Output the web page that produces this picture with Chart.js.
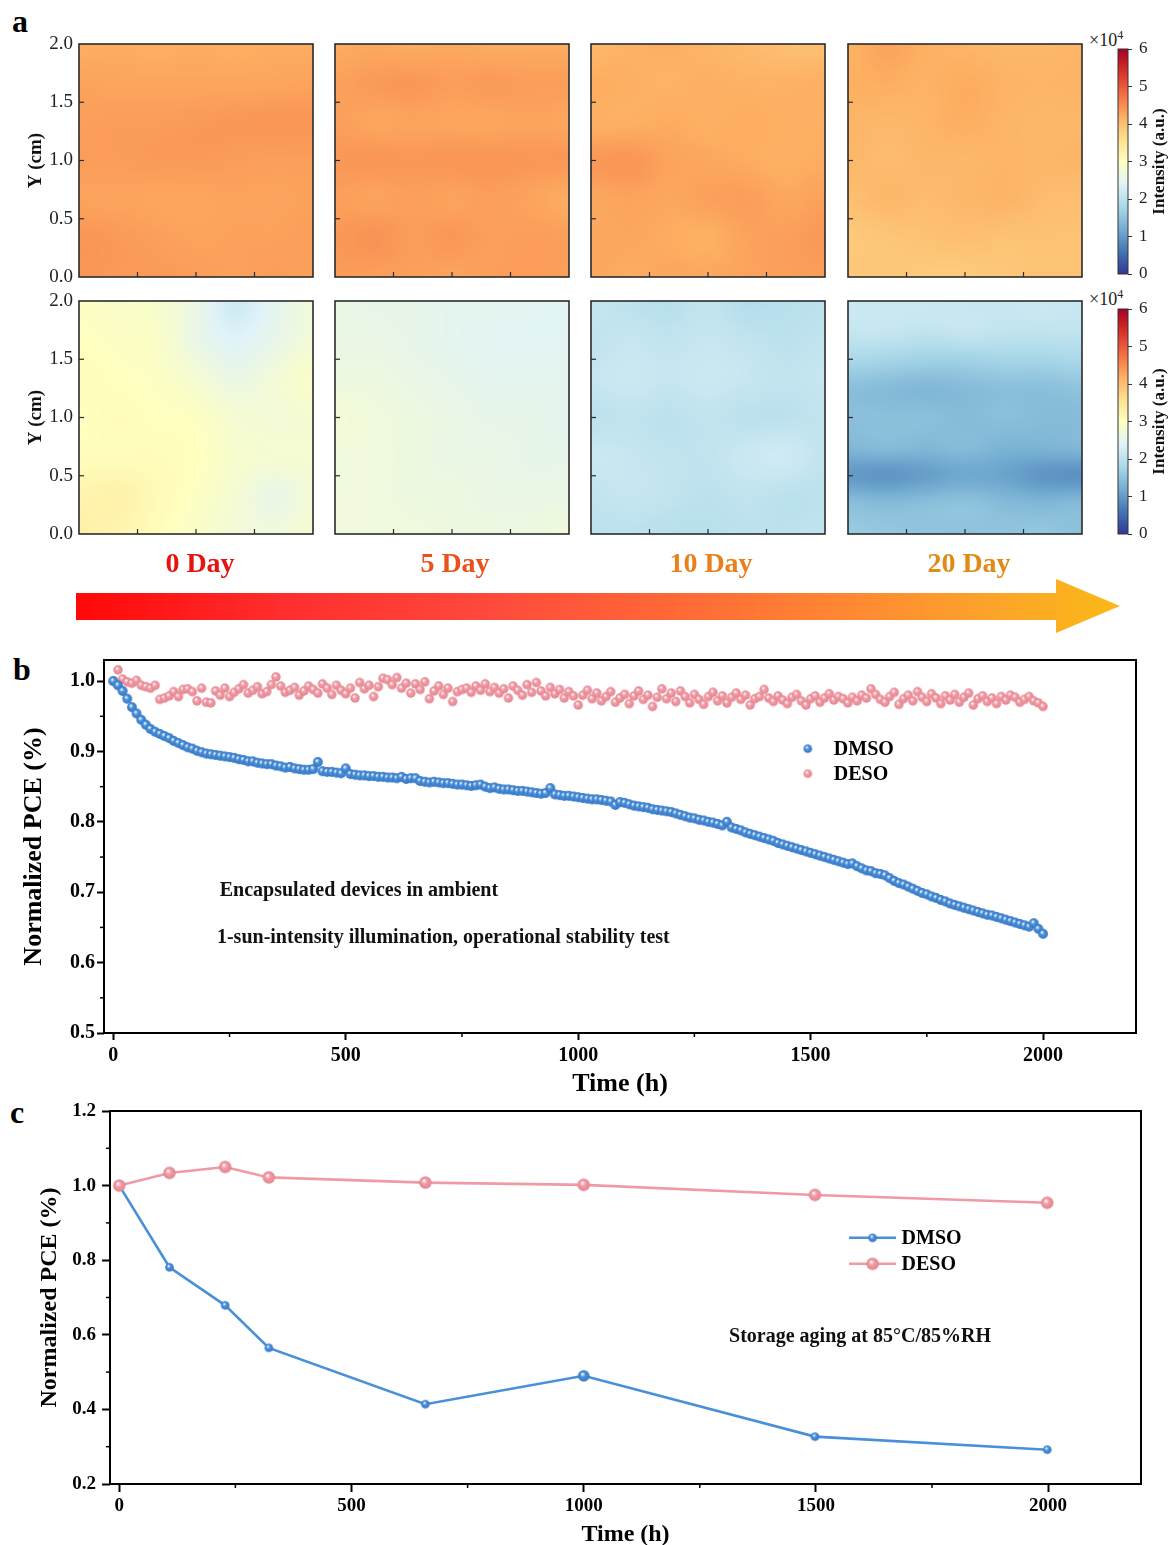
<!DOCTYPE html>
<html>
<head>
<meta charset="utf-8">
<script src="https://cdn.jsdelivr.net/npm/chart.js@4.4.1/dist/chart.umd.min.js"></script>
<style>
  body { margin: 0; background: #fff; width: 1168px; height: 1545px; position: relative; overflow: hidden;
         font-family: "Liberation Serif", "Times New Roman", serif; }
  canvas { position: absolute; }
  .t { position: absolute; white-space: nowrap; line-height: 1; }
  .lbl { font-weight: bold; font-size: 32px; color: #000; }
  .day { font-weight: bold; font-size: 28px; width: 200px; text-align: center; }
  .exp { font-size: 18px; color: #222; }
  .exp sup { font-size: 12px; vertical-align: 7px; }
  #arrow { position: absolute; left: 76px; top: 579px; width: 1044px; height: 54px;
           background: linear-gradient(to right, #ff0808 0%, #ff2e2e 20%, #ff4a3c 40%, #ff6a36 58%, #ff8a32 75%, #fca42a 88%, #fbb916 100%);
           clip-path: polygon(0 14px, 980px 14px, 980px 0, 1044px 27px, 980px 54px, 980px 41px, 0 41px); }
</style>
</head>
<body>
<div class="t lbl" style="left:12px;top:5px">a</div>
<div class="t lbl" style="left:13px;top:653px">b</div>
<div class="t lbl" style="left:10px;top:1096px">c</div>
<div class="t exp" style="left:1089px;top:29px">×10<sup>4</sup></div>
<div class="t exp" style="left:1089px;top:288px">×10<sup>4</sup></div>
<div id="arrow"></div>

<script>
// ---- panel a : intensity maps (x10^4), rows from Y = 2.0 (top) down to Y = 0.0
const heatTicks = [0, 0.5, 1.0, 1.5, 2.0];
const barTicks = [0, 1, 2, 3, 4, 5, 6];
const dayLabels = ["0 Day", "5 Day", "10 Day", "20 Day"];

const topDay0 = [
  [4.20, 4.22, 4.20, 4.22, 4.20, 4.22, 4.22],
  [4.30, 4.28, 4.28, 4.28, 4.28, 4.28, 4.30],
  [4.34, 4.36, 4.36, 4.38, 4.40, 4.42, 4.42],
  [4.36, 4.36, 4.38, 4.38, 4.36, 4.34, 4.34],
  [4.30, 4.30, 4.28, 4.28, 4.30, 4.30, 4.32],
  [4.42, 4.38, 4.34, 4.30, 4.32, 4.32, 4.34],
  [4.42, 4.38, 4.38, 4.35, 4.32, 4.35, 4.32]
];
const topDay5 = [
  [4.22, 4.25, 4.22, 4.25, 4.22, 4.22, 4.22],
  [4.32, 4.38, 4.40, 4.35, 4.38, 4.35, 4.35],
  [4.34, 4.28, 4.30, 4.28, 4.28, 4.30, 4.28],
  [4.40, 4.42, 4.40, 4.42, 4.42, 4.40, 4.40],
  [4.34, 4.30, 4.34, 4.30, 4.34, 4.30, 4.22],
  [4.40, 4.45, 4.36, 4.40, 4.34, 4.36, 4.34],
  [4.36, 4.34, 4.34, 4.30, 4.34, 4.36, 4.34]
];
const topDay10 = [
  [4.08, 4.15, 4.18, 4.12, 4.05, 4.00, 4.00],
  [4.22, 4.18, 4.15, 4.18, 4.15, 4.15, 4.18],
  [4.18, 4.18, 4.22, 4.18, 4.22, 4.18, 4.18],
  [4.40, 4.42, 4.30, 4.26, 4.22, 4.18, 4.22],
  [4.26, 4.30, 4.26, 4.32, 4.35, 4.26, 4.32],
  [4.26, 4.26, 4.22, 4.18, 4.30, 4.34, 4.40],
  [4.26, 4.22, 4.26, 4.26, 4.30, 4.34, 4.34]
];
const topDay20 = [
  [4.15, 4.30, 4.18, 4.12, 4.08, 4.08, 4.12],
  [4.18, 4.20, 4.15, 4.22, 4.15, 4.12, 4.15],
  [4.12, 4.08, 4.12, 4.20, 4.12, 4.08, 4.08],
  [4.08, 4.04, 4.08, 4.08, 4.12, 4.08, 4.12],
  [4.00, 4.08, 4.04, 4.08, 4.12, 4.04, 4.00],
  [3.88, 3.92, 3.96, 4.00, 3.96, 3.96, 3.96],
  [3.90, 3.90, 3.86, 3.86, 3.90, 3.95, 3.95]
];
const lowDay0 = [
  [2.95, 2.90, 2.85, 2.60, 2.20, 2.50, 2.70],
  [3.00, 2.95, 2.90, 2.60, 2.40, 2.55, 2.75],
  [3.05, 3.00, 2.95, 2.80, 2.60, 2.75, 2.90],
  [3.00, 3.05, 3.00, 2.95, 2.80, 2.75, 2.80],
  [3.05, 3.05, 3.05, 3.00, 2.85, 2.80, 2.80],
  [3.20, 3.25, 3.10, 2.95, 2.80, 2.60, 2.75],
  [3.30, 3.20, 3.05, 2.90, 2.75, 2.70, 2.80]
];
const lowDay5 = [
  [2.60, 2.55, 2.55, 2.50, 2.50, 2.45, 2.45],
  [2.60, 2.60, 2.55, 2.50, 2.45, 2.45, 2.45],
  [2.65, 2.65, 2.60, 2.55, 2.50, 2.50, 2.50],
  [2.75, 2.70, 2.65, 2.60, 2.55, 2.55, 2.50],
  [2.70, 2.70, 2.65, 2.60, 2.60, 2.55, 2.55],
  [2.70, 2.70, 2.65, 2.65, 2.60, 2.60, 2.60],
  [2.70, 2.70, 2.70, 2.65, 2.65, 2.65, 2.70]
];
const lowDay10 = [
  [2.10, 2.00, 1.95, 2.05, 1.90, 1.95, 2.00],
  [2.05, 2.10, 2.05, 2.10, 2.05, 2.00, 2.05],
  [2.10, 2.15, 2.10, 2.15, 2.10, 2.05, 2.10],
  [2.00, 2.05, 2.00, 2.05, 2.00, 2.00, 2.05],
  [2.15, 2.10, 2.05, 2.05, 2.15, 2.20, 2.05],
  [2.05, 2.10, 2.05, 2.00, 2.05, 2.00, 2.00],
  [2.00, 2.00, 1.95, 1.95, 2.00, 2.00, 2.05]
];
const lowDay20 = [
  [2.15, 2.15, 2.15, 2.10, 2.10, 2.15, 2.10],
  [2.10, 2.10, 2.05, 2.10, 2.05, 2.05, 2.05],
  [1.80, 1.75, 1.70, 1.70, 1.75, 1.75, 1.80],
  [1.45, 1.40, 1.35, 1.40, 1.45, 1.45, 1.50],
  [1.45, 1.45, 1.45, 1.40, 1.45, 1.40, 1.40],
  [1.35, 1.40, 1.35, 1.40, 1.30, 1.30, 1.35],
  [1.00, 0.95, 1.05, 1.15, 1.10, 0.95, 0.90],
  [1.45, 1.40, 1.45, 1.50, 1.40, 1.35, 1.40],
  [1.60, 1.55, 1.50, 1.50, 1.50, 1.55, 1.45]
];

// ---- panel b : operational stability
const timeB = [
  0, 10, 20, 30, 40, 50, 60, 70, 80, 90, 100, 110, 120, 130, 140, 150, 160, 170, 180, 190,
  200, 210, 220, 230, 240, 250, 260, 270, 280, 290, 300, 310, 320, 330, 340, 350, 360, 370, 380, 390,
  400, 410, 420, 430, 440, 450, 460, 470, 480, 490, 500, 510, 520, 530, 540, 550, 560, 570, 580, 590,
  600, 610, 620, 630, 640, 650, 660, 670, 680, 690, 700, 710, 720, 730, 740, 750, 760, 770, 780, 790,
  800, 810, 820, 830, 840, 850, 860, 870, 880, 890, 900, 910, 920, 930, 940, 950, 960, 970, 980, 990,
  1000, 1010, 1020, 1030, 1040, 1050, 1060, 1070, 1080, 1090, 1100, 1110, 1120, 1130, 1140, 1150, 1160, 1170, 1180, 1190,
  1200, 1210, 1220, 1230, 1240, 1250, 1260, 1270, 1280, 1290, 1300, 1310, 1320, 1330, 1340, 1350, 1360, 1370, 1380, 1390,
  1400, 1410, 1420, 1430, 1440, 1450, 1460, 1470, 1480, 1490, 1500, 1510, 1520, 1530, 1540, 1550, 1560, 1570, 1580, 1590,
  1600, 1610, 1620, 1630, 1640, 1650, 1660, 1670, 1680, 1690, 1700, 1710, 1720, 1730, 1740, 1750, 1760, 1770, 1780, 1790,
  1800, 1810, 1820, 1830, 1840, 1850, 1860, 1870, 1880, 1890, 1900, 1910, 1920, 1930, 1940, 1950, 1960, 1970, 1980, 1990,
  2000
];
const dmsoB = [
  1.000, 0.994, 0.986, 0.975, 0.963, 0.954, 0.945, 0.938, 0.932, 0.928,
  0.925, 0.922, 0.919, 0.915, 0.912, 0.909, 0.906, 0.904, 0.901, 0.899,
  0.897, 0.896, 0.895, 0.894, 0.893, 0.892, 0.891, 0.889, 0.888, 0.886,
  0.886, 0.884, 0.883, 0.882, 0.882, 0.880, 0.879, 0.877, 0.878, 0.876,
  0.875, 0.874, 0.874, 0.875, 0.885, 0.872, 0.871, 0.871, 0.870, 0.869,
  0.876, 0.868, 0.867, 0.866, 0.866, 0.865, 0.865, 0.864, 0.864, 0.863,
  0.863, 0.862, 0.864, 0.861, 0.862, 0.862, 0.858, 0.857, 0.856, 0.857,
  0.856, 0.855, 0.855, 0.854, 0.853, 0.853, 0.852, 0.851, 0.852, 0.853,
  0.850, 0.848, 0.849, 0.847, 0.846, 0.846, 0.845, 0.844, 0.844, 0.843,
  0.842, 0.841, 0.840, 0.841, 0.848, 0.839, 0.838, 0.837, 0.837, 0.836,
  0.835, 0.834, 0.833, 0.832, 0.832, 0.831, 0.830, 0.829, 0.824, 0.828,
  0.827, 0.825, 0.823, 0.822, 0.821, 0.820, 0.818, 0.817, 0.816, 0.815,
  0.814, 0.812, 0.810, 0.808, 0.806, 0.805, 0.803, 0.802, 0.800, 0.799,
  0.797, 0.795, 0.800, 0.792, 0.790, 0.788, 0.785, 0.783, 0.781, 0.779,
  0.777, 0.775, 0.773, 0.770, 0.768, 0.766, 0.764, 0.762, 0.760, 0.758,
  0.756, 0.754, 0.752, 0.750, 0.748, 0.746, 0.744, 0.742, 0.740, 0.741,
  0.737, 0.734, 0.731, 0.730, 0.727, 0.726, 0.724, 0.720, 0.716, 0.713,
  0.711, 0.708, 0.705, 0.702, 0.699, 0.697, 0.694, 0.692, 0.689, 0.687,
  0.684, 0.682, 0.680, 0.678, 0.676, 0.674, 0.672, 0.670, 0.668, 0.667,
  0.665, 0.663, 0.661, 0.659, 0.657, 0.655, 0.653, 0.651, 0.656, 0.648,
  0.641
];
const desoB = [
  1.000, 1.016, 1.003, 0.999, 0.997, 1.001, 0.994, 0.992, 0.990, 0.994,
  0.974, 0.976, 0.979, 0.985, 0.978, 0.988, 0.989, 0.985, 0.972, 0.990,
  0.970, 0.969, 0.986, 0.980, 0.990, 0.978, 0.984, 0.989, 0.995, 0.983,
  0.987, 0.992, 0.982, 0.985, 0.995, 1.006, 0.993, 0.984, 0.987, 0.991,
  0.980, 0.986, 0.993, 0.988, 0.983, 0.996, 0.990, 0.981, 0.994, 0.987,
  0.982, 0.990, 0.976, 0.998, 0.989, 0.994, 0.978, 0.992, 1.004, 1.002,
  0.995, 1.005, 0.990, 0.997, 0.983, 0.996, 0.988, 0.999, 0.975, 0.986,
  0.993, 0.981, 0.990, 0.971, 0.985, 0.988, 0.990, 0.984, 0.993, 0.987,
  0.996, 0.985, 0.991, 0.983, 0.989, 0.976, 0.993, 0.987, 0.980, 0.995,
  0.984, 0.998, 0.986, 0.979, 0.991, 0.982, 0.988, 0.976, 0.985, 0.979,
  0.966, 0.980, 0.987, 0.975, 0.983, 0.972, 0.978, 0.985, 0.970, 0.976,
  0.981, 0.968, 0.979, 0.986, 0.974, 0.980, 0.964, 0.977, 0.989, 0.975,
  0.983, 0.971, 0.986, 0.978, 0.969, 0.981, 0.974, 0.967, 0.978, 0.984,
  0.972, 0.979, 0.969, 0.977, 0.983, 0.974, 0.980, 0.966, 0.975, 0.978,
  0.988, 0.976, 0.971, 0.979, 0.973, 0.968, 0.977, 0.981, 0.972, 0.966,
  0.975, 0.979, 0.970, 0.976, 0.982, 0.973, 0.978, 0.975, 0.969, 0.977,
  0.972, 0.980, 0.976, 0.989, 0.981, 0.974, 0.970, 0.978, 0.984, 0.967,
  0.975, 0.980, 0.972, 0.985, 0.977, 0.971, 0.982, 0.976, 0.968, 0.979,
  0.973, 0.981, 0.970, 0.977, 0.983, 0.966, 0.975, 0.979, 0.971, 0.976,
  0.968, 0.978, 0.973, 0.980, 0.977, 0.970, 0.974, 0.978, 0.972, 0.969,
  0.964
];
const ticksBX = [0, 500, 1000, 1500, 2000];
const minorBX = [250, 750, 1250, 1750];
const ticksBY = [0.5, 0.6, 0.7, 0.8, 0.9, 1.0];
const minorBY = [0.55, 0.65, 0.75, 0.85, 0.95];

// ---- panel c : damp heat storage
const timeC = [0, 108, 228, 322, 659, 1000, 1498, 1998];
const dmsoC = [1.000, 0.781, 0.679, 0.565, 0.414, 0.490, 0.327, 0.292];
const desoC = [1.000, 1.034, 1.050, 1.022, 1.008, 1.002, 0.975, 0.954];
const ticksCX = [0, 500, 1000, 1500, 2000];
const minorCX = [250, 750, 1250, 1750];
const ticksCY = [0.2, 0.4, 0.6, 0.8, 1.0, 1.2];
const minorCY = [0.3, 0.5, 0.7, 0.9, 1.1];

const FONT = '"Liberation Serif", "Times New Roman", serif';
Chart.defaults.font.family = FONT;
Chart.defaults.color = "#000";

// RdYlBu reversed
const CMAP = [[49,54,149],[69,117,180],[116,173,209],[171,217,233],[224,243,248],[255,255,191],
              [254,224,144],[253,174,97],[244,109,67],[215,48,39],[165,0,38]];
function cmap(t) {
  t = Math.min(1, Math.max(0, t)) * (CMAP.length - 1);
  const i = Math.min(CMAP.length - 2, Math.floor(t)), f = t - i;
  const a = CMAP[i], b = CMAP[i + 1];
  return [a[0] + (b[0] - a[0]) * f, a[1] + (b[1] - a[1]) * f, a[2] + (b[2] - a[2]) * f];
}
function cr(p0, p1, p2, p3, t) {
  return p1 + 0.5 * t * (p2 - p0 + t * (2 * p0 - 5 * p1 + 4 * p2 - p3 + t * (3 * (p1 - p2) + p3 - p0)));
}
function sample(g, fy, fx) {
  const R = g.length, C = g[0].length;
  const iy = Math.floor(fy), ix = Math.floor(fx), ty = fy - iy, tx = fx - ix;
  const at = (r, c) => g[Math.min(R - 1, Math.max(0, r))][Math.min(C - 1, Math.max(0, c))];
  const row = [];
  for (let k = -1; k <= 2; k++) row.push(cr(at(iy + k, ix - 1), at(iy + k, ix), at(iy + k, ix + 1), at(iy + k, ix + 2), tx));
  return cr(row[0], row[1], row[2], row[3], ty);
}

function makeCanvas(left, top, w, h) {
  const c = document.createElement("canvas");
  c.width = w; c.height = h;
  c.style.left = left + "px"; c.style.top = top + "px";
  c.style.width = w + "px"; c.style.height = h + "px";
  document.body.appendChild(c);
  return c;
}

function sphere(r, base, dark) {
  const s = Math.ceil(r * 2) + 2, c = document.createElement("canvas");
  c.width = c.height = s;
  const g = c.getContext("2d"), m = s / 2;
  const grad = g.createRadialGradient(m - r * 0.25, m - r * 0.35, r * 0.05, m, m, r);
  grad.addColorStop(0, "#ffffff");
  grad.addColorStop(0.4, base);
  grad.addColorStop(1, dark);
  g.fillStyle = grad;
  g.beginPath(); g.arc(m, m, r, 0, Math.PI * 2); g.fill();
  return c;
}
const BLUE = "#4a90d9", PINK = "#f09aa3";
const ballBlue = sphere(4.9, "#4a92dc", "#3675c2");
const ballPink = sphere(4.7, "#f29ca6", "#e3848f");
const ballBlueS = sphere(4.3, "#4a92dc", "#3675c2");
const ballBlueL = sphere(5.8, "#4a92dc", "#3675c2");
const ballPinkL = sphere(6.2, "#f29ca6", "#e3848f");

function line(ctx, x1, y1, x2, y2) { ctx.beginPath(); ctx.moveTo(x1, y1); ctx.lineTo(x2, y2); ctx.stroke(); }

// box around plot area + short ticks that Chart.js has no option for
const framePlugin = {
  id: "frame",
  afterDatasetsDraw(chart, args, o) {
    const { ctx, chartArea: a, scales: { x, y } } = chart;
    ctx.save();
    ctx.strokeStyle = o.color || "#000";
    ctx.lineWidth = o.minorWidth || 1.5;
    (o.minorX || []).forEach(v => { const p = x.getPixelForValue(v); line(ctx, p, a.bottom, p, a.bottom + o.minorLen); });
    (o.minorY || []).forEach(v => { const p = y.getPixelForValue(v); line(ctx, a.left - o.minorLen, p, a.left, p); });
    (o.inX || []).forEach(v => { const p = x.getPixelForValue(v); line(ctx, p, a.bottom, p, a.bottom - o.inLen); });
    (o.inY || []).forEach(v => { const p = y.getPixelForValue(v); line(ctx, a.left, p, a.left + o.inLen, p); });
    ctx.lineWidth = o.width || 2;
    ctx.strokeRect(a.left, a.top, a.width, a.height);
    ctx.restore();
  }
};

function heatLayer(grid) {
  return {
    id: "heat",
    beforeDatasetsDraw(chart) {
      const { ctx, scales: { x, y } } = chart;
      const left = x.getPixelForValue(0), right = x.getPixelForValue(2);
      const top = y.getPixelForValue(2), bottom = y.getPixelForValue(0);
      const w = Math.round(right - left), h = Math.round(bottom - top);
      const off = document.createElement("canvas");
      off.width = w; off.height = h;
      const octx = off.getContext("2d");
      const img = octx.createImageData(w, h);
      const R = grid.length, C = grid[0].length;
      for (let py = 0; py < h; py++) {
        const fy = py / (h - 1) * (R - 1);
        for (let px = 0; px < w; px++) {
          const fx = px / (w - 1) * (C - 1);
          const c = cmap(sample(grid, fy, fx) / 6);
          const k = (py * w + px) * 4;
          img.data[k] = c[0]; img.data[k + 1] = c[1]; img.data[k + 2] = c[2]; img.data[k + 3] = 255;
        }
      }
      octx.putImageData(img, 0, 0);
      ctx.drawImage(off, left, top);
    }
  };
}

const colorbarPlugin = {
  id: "cbar",
  beforeDatasetsDraw(chart) {
    const { ctx, chartArea: a, scales: { y } } = chart;
    const g = ctx.createLinearGradient(0, y.getPixelForValue(0), 0, y.getPixelForValue(6));
    CMAP.forEach((c, i) => g.addColorStop(i / (CMAP.length - 1), `rgb(${c[0]},${c[1]},${c[2]})`));
    ctx.fillStyle = g;
    ctx.fillRect(a.left, a.top, a.width, a.height);
  },
  afterDraw(chart) {
    const { ctx, chartArea: a } = chart;
    ctx.save();
    ctx.translate(52, (a.top + a.bottom) / 2);
    ctx.rotate(-Math.PI / 2);
    ctx.font = "bold 17px " + FONT;
    ctx.fillStyle = "#111";
    ctx.textAlign = "center"; ctx.textBaseline = "middle";
    ctx.fillText("Intensity (a.u.)", 0, 0);
    ctx.restore();
  }
};

function legendLayer(items) {
  return {
    id: "keys",
    afterDraw(chart, args, o) {
      const { ctx, scales: { x, y } } = chart;
      const cx = x.getPixelForValue(o.at[0]), cy = y.getPixelForValue(o.at[1]);
      ctx.save();
      ctx.font = "bold 20px " + FONT;
      ctx.fillStyle = "#000"; ctx.textBaseline = "middle"; ctx.textAlign = "left";
      items.forEach((it, i) => {
        const yy = cy + i * o.gap;
        const ds = chart.data.datasets[i];
        if (o.lineLen) {
          ctx.strokeStyle = ds.borderColor; ctx.lineWidth = 2.5;
          line(ctx, cx - o.lineLen / 2, yy, cx + o.lineLen / 2, yy);
        }
        ctx.drawImage(it, cx - it.width / 2, yy - it.height / 2);
        ctx.fillText(ds.label, cx + o.textOffset, yy + 1);
      });
      ctx.restore();
    }
  };
}

const notesPlugin = {
  id: "notes",
  afterDraw(chart, args, o) {
    const { ctx, scales: { x, y } } = chart;
    ctx.save();
    ctx.font = "bold 20px " + FONT;
    ctx.fillStyle = "#111"; ctx.textBaseline = "middle"; ctx.textAlign = "left";
    o.items.forEach(n => ctx.fillText(n.text, x.getPixelForValue(n.at[0]), y.getPixelForValue(n.at[1])));
    ctx.restore();
  }
};

// ---------- panel a
const heatGrids = [[topDay0, topDay5, topDay10, topDay20], [lowDay0, lowDay5, lowDay10, lowDay20]];
const colLeft = [79, 335, 591, 848];
const rowTop = [44, 301];
const mapW = 234, mapH = 233;

heatGrids.forEach((row, r) => {
  row.forEach((grid, c) => {
    const first = c === 0;
    const left = first ? 0 : colLeft[c] - 4;
    const cv = makeCanvas(left, rowTop[r] - 20, colLeft[c] - left + mapW + 4, mapH + 40);
    new Chart(cv, {
      type: "scatter",
      data: { datasets: [{ data: [] }] },
      options: {
        responsive: false, maintainAspectRatio: false, animation: false, events: [],
        layout: { padding: { left: first ? 0 : 4, right: 4, top: 20, bottom: 20 } },
        plugins: {
          legend: { display: false }, tooltip: { enabled: false },
          frame: { color: "#2b2b2b", width: 1.6, minorWidth: 1.2, inX: [0.5, 1, 1.5], inY: [0.5, 1, 1.5], inLen: 5 }
        },
        scales: {
          x: { type: "linear", min: 0, max: 2, display: false },
          y: {
            type: "linear", min: 0, max: 2, display: first,
            afterFit: s => { s.width = first ? 79 : 0; },
            afterBuildTicks: s => { s.ticks = heatTicks.map(v => ({ value: v })); },
            grid: { display: false, drawTicks: false }, border: { display: false },
            ticks: { callback: v => v.toFixed(1), padding: 6, font: { size: 19 }, color: "#222" },
            title: { display: true, text: "Y (cm)", font: { size: 19, weight: "bold" }, color: "#111", padding: { top: 25, bottom: 0 } }
          }
        }
      },
      plugins: [heatLayer(grid), framePlugin]
    });
  });
});

// colour bars
[49, 309].forEach(top => {
  const cv = makeCanvas(1108, top - 20, 60, 225 + 40);
  new Chart(cv, {
    type: "scatter",
    data: { datasets: [{ data: [] }] },
    options: {
      responsive: false, maintainAspectRatio: false, animation: false, events: [],
      layout: { padding: { left: 10, right: 0, top: 20, bottom: 20 } },
      plugins: { legend: { display: false }, tooltip: { enabled: false }, frame: { color: "#333", width: 1 } },
      scales: {
        x: { type: "linear", min: 0, max: 1, display: false },
        y: {
          type: "linear", position: "right", min: 0, max: 6,
          afterFit: s => { s.width = 40; },
          afterBuildTicks: s => { s.ticks = barTicks.map(v => ({ value: v })); },
          grid: { drawOnChartArea: false, tickLength: 4, color: "#333" }, border: { display: false },
          ticks: { padding: 7, font: { size: 17 }, color: "#222" }
        }
      }
    },
    plugins: [colorbarPlugin, framePlugin]
  });
});

// day labels
const dayCenters = [200, 455, 711, 969];
const dayColors = ["#e3150e", "#e9521c", "#e8811c", "#e08a17"];
dayLabels.forEach((d, i) => {
  const el = document.createElement("div");
  el.className = "t day";
  el.style.left = (dayCenters[i] - 100) + "px";
  el.style.top = "549px";
  el.style.color = dayColors[i];
  el.textContent = d;
  document.body.appendChild(el);
});

// ---------- panel b
const cvB = makeCanvas(0, 640, 1168, 460);
new Chart(cvB, {
  type: "scatter",
  data: {
    datasets: [
      { label: "DMSO", data: timeB.map((t, i) => ({ x: t, y: dmsoB[i] })), pointStyle: ballBlue, pointRadius: 5, borderColor: BLUE, backgroundColor: BLUE },
      { label: "DESO", data: timeB.map((t, i) => ({ x: t, y: desoB[i] })), pointStyle: ballPink, pointRadius: 5, borderColor: PINK, backgroundColor: PINK }
    ]
  },
  options: {
    responsive: false, maintainAspectRatio: false, animation: false, events: [],
    layout: { padding: { top: 20, right: 32, left: 0, bottom: 0 } },
    plugins: {
      legend: { display: false }, tooltip: { enabled: false },
      frame: { width: 2, minorX: minorBX, minorY: minorBY, minorLen: 4 },
      keys: { at: [1494, 0.904], gap: 25, textOffset: 26 },
      notes: { items: [
        { text: "Encapsulated devices in ambient", at: [229, 0.7015] },
        { text: "1-sun-intensity illumination, operational stability test", at: [223, 0.6346] }
      ] }
    },
    scales: {
      x: {
        type: "linear", min: -20, max: 2200,
        afterFit: s => { s.height = 67; },
        afterBuildTicks: s => { s.ticks = ticksBX.map(v => ({ value: v })); },
        grid: { drawOnChartArea: false, tickLength: 7, tickWidth: 2, color: "#000" }, border: { display: false },
        ticks: { callback: v => String(v), font: { size: 20, weight: "bold" }, color: "#000", padding: 4, maxRotation: 0, autoSkip: false },
        title: { display: true, text: "Time (h)", font: { size: 26, weight: "bold" }, color: "#000", padding: 0 }
      },
      y: {
        type: "linear", min: 0.5, max: 1.03,
        afterFit: s => { s.width = 104; },
        afterBuildTicks: s => { s.ticks = ticksBY.map(v => ({ value: v })); },
        grid: { drawOnChartArea: false, tickLength: 7, tickWidth: 2, color: "#000" }, border: { display: false },
        ticks: { callback: v => v.toFixed(1), font: { size: 20, weight: "bold" }, color: "#000", padding: 2 },
        title: { display: true, text: "Normalized PCE (%)", font: { size: 26, weight: "bold" }, color: "#000", padding: { top: 19, bottom: 0 } }
      }
    }
  },
  plugins: [framePlugin, legendLayer([ballBlueS, ballPinkS()]), notesPlugin]
});
function ballPinkS() { return sphere(4.3, "#f29ca6", "#e3848f"); }

// ---------- panel c
const cvC = makeCanvas(0, 1090, 1168, 455);
new Chart(cvC, {
  type: "scatter",
  data: {
    datasets: [
      { label: "DMSO", data: timeC.map((t, i) => ({ x: t, y: dmsoC[i] })), showLine: true, order: 1,
        borderColor: BLUE, backgroundColor: BLUE, borderWidth: 2.6, pointRadius: 4,
        pointStyle: ctx => (ctx.dataIndex === 5 ? ballBlueL : ballBlueS) },
      { label: "DESO", data: timeC.map((t, i) => ({ x: t, y: desoC[i] })), showLine: true, order: 0,
        borderColor: PINK, backgroundColor: PINK, borderWidth: 2.6, pointRadius: 6, pointStyle: ballPinkL }
    ]
  },
  options: {
    responsive: false, maintainAspectRatio: false, animation: false, events: [],
    layout: { padding: { top: 21, right: 27, left: 0, bottom: 0 } },
    plugins: {
      legend: { display: false }, tooltip: { enabled: false },
      frame: { width: 2, minorX: minorCX, minorY: minorCY, minorLen: 4 },
      keys: { at: [1622, 0.860], gap: 26, textOffset: 29, lineLen: 47 },
      notes: { items: [{ text: "Storage aging at 85°C/85%RH", at: [1313, 0.595] }] }
    },
    scales: {
      x: {
        type: "linear", min: -20, max: 2200,
        afterFit: s => { s.height = 61; },
        afterBuildTicks: s => { s.ticks = ticksCX.map(v => ({ value: v })); },
        grid: { drawOnChartArea: false, tickLength: 8, tickWidth: 2, color: "#000" }, border: { display: false },
        ticks: { callback: v => String(v), font: { size: 19, weight: "bold" }, color: "#000", padding: 3, maxRotation: 0, autoSkip: false },
        title: { display: true, text: "Time (h)", font: { size: 24, weight: "bold", lineHeight: 0.85 }, color: "#000", padding: 0 }
      },
      y: {
        type: "linear", min: 0.2, max: 1.2,
        afterFit: s => { s.width = 110; },
        afterBuildTicks: s => { s.ticks = ticksCY.map(v => ({ value: v })); },
        grid: { drawOnChartArea: false, tickLength: 8, tickWidth: 2, color: "#000" }, border: { display: false },
        ticks: { callback: v => v.toFixed(1), font: { size: 19, weight: "bold" }, color: "#000", padding: 6 },
        title: { display: true, text: "Normalized PCE (%)", font: { size: 24, weight: "bold" }, color: "#000", padding: { top: 35, bottom: 0 } }
      }
    }
  },
  plugins: [framePlugin, legendLayer([ballBlueS, ballPinkL]), notesPlugin]
});
</script>
</body>
</html>
